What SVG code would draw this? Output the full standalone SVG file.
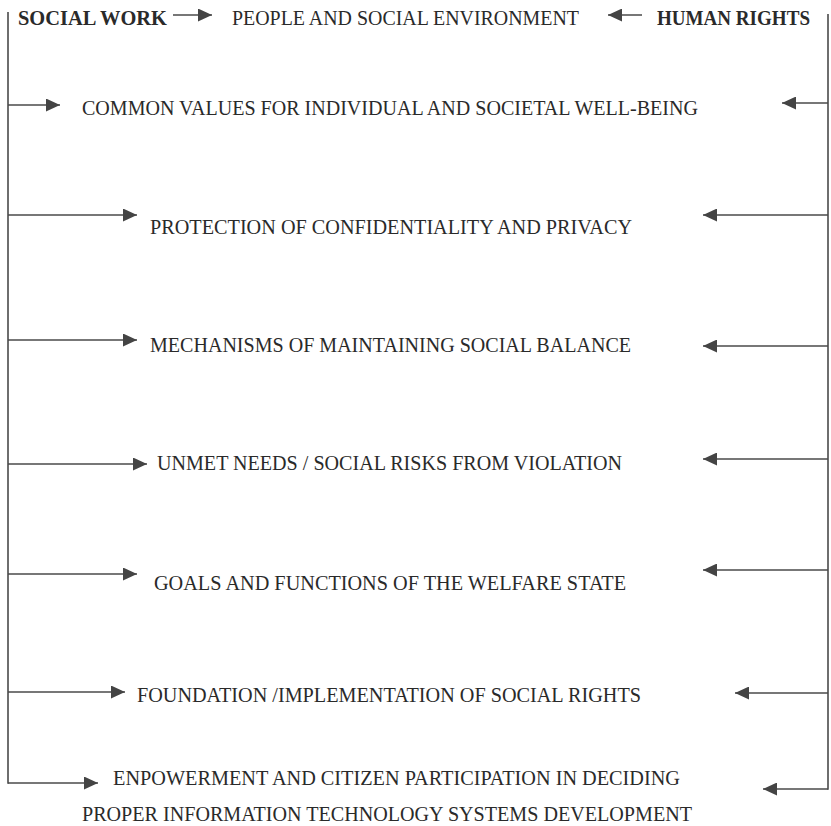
<svg xmlns="http://www.w3.org/2000/svg" width="831" height="826" viewBox="0 0 831 826">
<defs>
<marker id="ah" markerUnits="userSpaceOnUse" markerWidth="15" markerHeight="13" refX="14" refY="6.5" orient="auto">
<path d="M0,0 L14,6.5 L0,13 z" fill="#444"/>
</marker>
</defs>
<style>
.t{font-family:"Liberation Serif","Times New Roman",serif;font-size:22px;fill:#2a2a2a}
.b{font-weight:bold;font-size:20.5px}
.c{stroke:#4a4a4a;stroke-width:1.6;fill:none}
.a{stroke:#4a4a4a;stroke-width:1.6;fill:none;marker-end:url(#ah)}
</style>
<rect width="831" height="826" fill="#fff"/>
<g id="connectors">
<line class="c" x1="8" y1="12" x2="8" y2="783.8"/>
<line class="c" x1="828" y1="14" x2="828" y2="789.8"/>
<line class="a" x1="173" y1="15" x2="212" y2="15"/>
<line class="a" x1="642" y1="15" x2="608" y2="15"/>
<line class="a" x1="8" y1="105" x2="60" y2="105"/>
<line class="a" x1="828" y1="103" x2="782" y2="103"/>
<line class="a" x1="8" y1="215" x2="137" y2="215"/>
<line class="a" x1="828" y1="215" x2="703" y2="215"/>
<line class="a" x1="8" y1="340" x2="137" y2="340"/>
<line class="a" x1="828" y1="346" x2="703" y2="346"/>
<line class="a" x1="8" y1="464" x2="147" y2="464"/>
<line class="a" x1="828" y1="459" x2="703" y2="459"/>
<line class="a" x1="8" y1="574" x2="137" y2="574"/>
<line class="a" x1="828" y1="570" x2="703" y2="570"/>
<line class="a" x1="8" y1="692" x2="125" y2="692"/>
<line class="a" x1="828" y1="693" x2="735" y2="693"/>
<line class="a" x1="8" y1="783" x2="98" y2="783"/>
<line class="a" x1="828" y1="789" x2="763" y2="789"/>
</g>
<g id="social-work"><text class="t b" x="18" y="25" textLength="149" lengthAdjust="spacingAndGlyphs">SOCIAL WORK</text></g>
<g id="people"><text class="t" x="232" y="25" textLength="347" lengthAdjust="spacingAndGlyphs">PEOPLE AND SOCIAL ENVIRONMENT</text></g>
<g id="human-rights"><text class="t b" x="657" y="25" textLength="153" lengthAdjust="spacingAndGlyphs">HUMAN RIGHTS</text></g>
<g id="common-values"><text class="t" x="82" y="115" textLength="616" lengthAdjust="spacingAndGlyphs">COMMON VALUES FOR INDIVIDUAL AND SOCIETAL WELL-BEING</text></g>
<g id="protection"><text class="t" x="150" y="234" textLength="482" lengthAdjust="spacingAndGlyphs">PROTECTION OF CONFIDENTIALITY AND PRIVACY</text></g>
<g id="mechanisms"><text class="t" x="150" y="352" textLength="481" lengthAdjust="spacingAndGlyphs">MECHANISMS OF MAINTAINING SOCIAL BALANCE</text></g>
<g id="unmet"><text class="t" x="157" y="470" textLength="465" lengthAdjust="spacingAndGlyphs">UNMET NEEDS / SOCIAL RISKS FROM VIOLATION</text></g>
<g id="goals"><text class="t" x="154" y="590" textLength="472" lengthAdjust="spacingAndGlyphs">GOALS AND FUNCTIONS OF THE WELFARE STATE</text></g>
<g id="foundation"><text class="t" x="137" y="702" textLength="504" lengthAdjust="spacingAndGlyphs">FOUNDATION /IMPLEMENTATION OF SOCIAL RIGHTS</text></g>
<g id="empowerment"><text class="t" x="113" y="785" textLength="567" lengthAdjust="spacingAndGlyphs">ENPOWERMENT AND CITIZEN PARTICIPATION IN DECIDING</text></g>
<g id="it-systems"><text class="t" x="82" y="821" textLength="610" lengthAdjust="spacingAndGlyphs">PROPER INFORMATION TECHNOLOGY SYSTEMS DEVELOPMENT</text></g>
</svg>
